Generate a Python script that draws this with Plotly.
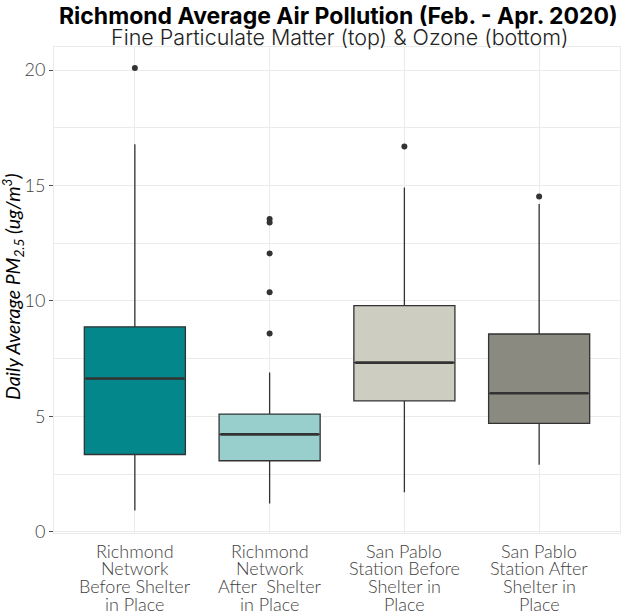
import plotly.graph_objects as go

category_lines = [["Richmond", "Network", "Before Shelter", "in Place"],
                  ["Richmond", "Network", "After  Shelter", "in Place"],
                  ["San Pablo", "Station Before", "Shelter in", "Place"],
                  ["San Pablo", "Station After", "Shelter in", "Place"]]
lower_whisker = [0.92, 1.23, 1.72, 2.91]
q1_vals = [3.35, 3.08, 5.67, 4.70]
median_vals = [6.64, 4.22, 7.33, 6.00]
q3_vals = [8.88, 5.10, 9.80, 8.57]
upper_whisker = [16.79, 6.90, 14.91, 14.20]
outliers = [[20.09], [13.55, 13.40, 12.06, 10.38, 8.59], [16.69], [14.52]]
fill_colors = ["#03878A", "#98CFCC", "#CDCDC1", "#8A8A80"]
y_ticks = [0, 5, 10, 15, 20]

xpos = list(range(len(category_lines)))
box_w = 0.75
edge = "#333333"
tick_font = dict(family="Lato", size=18, color="#3F3F3F", weight=300)

fig = go.Figure()
for i in xpos:
    fig.add_trace(go.Box(
        x=[i], q1=[q1_vals[i]], median=[median_vals[i]], q3=[q3_vals[i]],
        lowerfence=[lower_whisker[i]], upperfence=[upper_whisker[i]],
        width=box_w, fillcolor=fill_colors[i], line=dict(color=edge, width=1.3),
        whiskerwidth=0, boxpoints=False, showlegend=False, hoverinfo="skip"))
    fig.add_trace(go.Scatter(
        x=[i - box_w / 2 + 0.01, i + box_w / 2 - 0.01], y=[median_vals[i]] * 2,
        mode="lines", line=dict(color=edge, width=2.6), showlegend=False, hoverinfo="skip"))
    fig.add_trace(go.Scatter(
        x=[i] * len(outliers[i]), y=outliers[i], mode="markers",
        marker=dict(color=edge, size=6), showlegend=False, hoverinfo="skip"))

annotations = []
# category labels, one line each for tight line spacing
for i, lines in enumerate(category_lines):
    for k, line in enumerate(lines):
        annotations.append(dict(
            x=i, xref="x", y=0, yref="paper", yanchor="middle", xanchor="center",
            yshift=-(17.5 + 17.7 * k), text=line, showarrow=False, font=tick_font))
# titles
annotations.append(dict(
    x=0.503, xref="paper", y=1, yref="paper", yshift=31, yanchor="middle",
    text="<b>Richmond Average Air Pollution (Feb. - Apr. 2020)</b>", showarrow=False,
    font=dict(family="Inter", size=23, color="black", weight=800)))
annotations.append(dict(
    x=0.505, xref="paper", y=1, yref="paper", yshift=10, yanchor="middle",
    text="Fine Particulate Matter (top) &amp; Ozone (bottom)", showarrow=False,
    font=dict(family="Inter", size=21.5, color="#222222", weight=300)))
# y axis title
annotations.append(dict(
    x=0, xref="paper", xshift=-41, xanchor="center", y=0.5, yref="paper", yshift=3,
    yanchor="middle", textangle=-90,
    text="Daily Average PM<sub>2.5</sub> (ug/m<sup>3</sup>)", showarrow=False,
    font=dict(family="Lato", size=19.5, color="black", style="italic")))

fig.update_layout(
    width=628, height=616,
    margin=dict(l=54, r=8, t=47, b=83, autoexpand=False),
    paper_bgcolor="white", plot_bgcolor="white",
    annotations=annotations,
    font=dict(family="Lato", color="#4D4D4D"),
)
fig.update_xaxes(
    range=[-0.6, 3.6], tickvals=xpos, showticklabels=False,
    showgrid=True, gridcolor="#EBEBEB", gridwidth=1,
    showline=True, mirror=True, linecolor="#EBEBEB", linewidth=1,
    ticks="", zeroline=False, automargin=False)
fig.update_yaxes(
    range=[-0.05, 21.0], tickvals=y_ticks,
    showgrid=True, gridcolor="#EBEBEB", gridwidth=1,
    minor=dict(tickvals=[2.5, 7.5, 12.5, 17.5], showgrid=True, gridcolor="#EBEBEB", gridwidth=1),
    showline=True, mirror=True, linecolor="#EBEBEB", linewidth=1,
    ticks="outside", ticklen=4, tickcolor="#4D4D4D",
    tickfont=tick_font, zeroline=False, automargin=False)

fig.write_html("out.html", config={"displayModeBar": False},
               post_script="document.body.style.margin='0';document.body.style.overflow='hidden';")
